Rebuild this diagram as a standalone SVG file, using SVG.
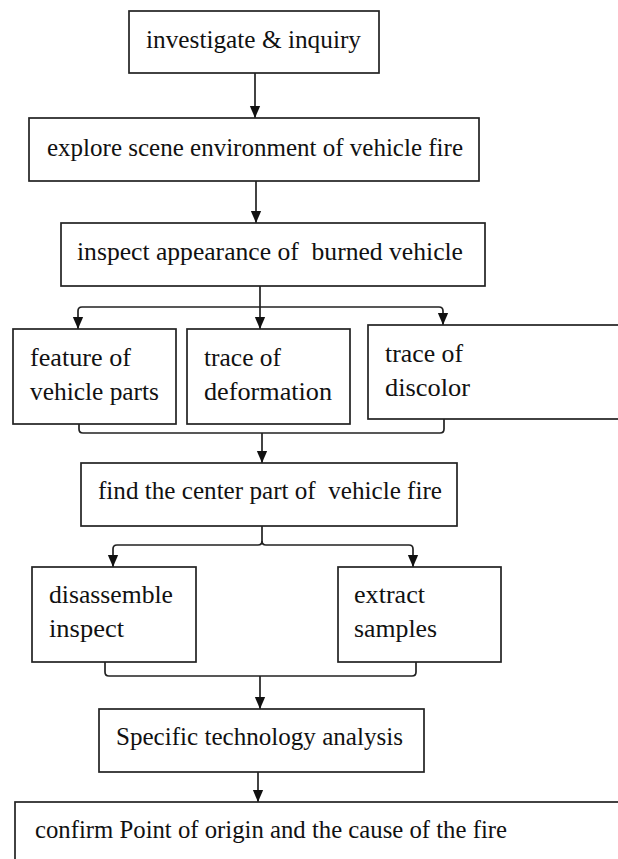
<svg xmlns="http://www.w3.org/2000/svg" width="618" height="859" viewBox="0 0 618 859">
<style>
rect{fill:#fff;stroke:#222;stroke-width:1.7}
text{font-family:"Liberation Serif","Times New Roman",serif;font-size:25px;fill:#111}
.c{fill:none;stroke:#222;stroke-width:1.7}
</style>
<defs>
<marker id="d" markerWidth="12" markerHeight="12" refX="14" refY="6" orient="auto" markerUnits="userSpaceOnUse" viewBox="0 0 14 12">
<path d="M0,0 L14,6 L0,12 Z" fill="#111"/>
</marker>
</defs>
<rect width="618" height="859" fill="#fff" style="stroke:none"/>
<g id="connectors">
<path class="c" d="M255,73 V118" marker-end="url(#d)"/>
<path class="c" d="M256,181 V223" marker-end="url(#d)"/>
<path class="c" d="M260,286 V329" marker-end="url(#d)"/>
<path class="c" d="M260,307 H82 Q78,307 78,311 V329" marker-end="url(#d)"/>
<path class="c" d="M260,307 H439 Q443,307 443,311 V325" marker-end="url(#d)"/>
<path class="c" d="M79,420 V429 Q79,433 83,433 H440 Q444,433 444,429 V419"/>
<path class="c" d="M262,433 V463" marker-end="url(#d)"/>
<path class="c" d="M262,526 V541 Q262,545 258,545 H117 Q113,545 113,549 V567" marker-end="url(#d)"/>
<path class="c" d="M262,541 Q262,545 266,545 H409 Q413,545 413,549 V567" marker-end="url(#d)"/>
<path class="c" d="M105,662 V672 Q105,676 109,676 H412 Q416,676 416,672 V662"/>
<path class="c" d="M260,676 V709" marker-end="url(#d)"/>
<path class="c" d="M258,772 V802" marker-end="url(#d)"/>
</g>
<g id="n1"><rect x="129" y="11" width="250" height="62"/><text x="146" y="48" textLength="215" lengthAdjust="spacingAndGlyphs">investigate &amp; inquiry</text></g>
<g id="n2"><rect x="29" y="118" width="450" height="63"/><text x="47" y="156" textLength="416" lengthAdjust="spacingAndGlyphs">explore scene environment of vehicle fire</text></g>
<g id="n3"><rect x="61" y="223" width="424" height="63"/><text x="77" y="260" textLength="386" lengthAdjust="spacingAndGlyphs" xml:space="preserve">inspect appearance of  burned vehicle</text></g>
<g id="n4"><rect x="13" y="329" width="163" height="95"/><text x="30" y="366" textLength="101" lengthAdjust="spacingAndGlyphs">feature of</text><text x="30" y="400" textLength="129" lengthAdjust="spacingAndGlyphs">vehicle parts</text></g>
<g id="n5"><rect x="187" y="329" width="163" height="95"/><text x="204" y="366" textLength="77" lengthAdjust="spacingAndGlyphs">trace of</text><text x="204" y="400" textLength="128" lengthAdjust="spacingAndGlyphs">deformation</text></g>
<g id="n6"><rect x="368" y="325" width="270" height="94"/><text x="385" y="362" textLength="78" lengthAdjust="spacingAndGlyphs">trace of</text><text x="385" y="396" textLength="85" lengthAdjust="spacingAndGlyphs">discolor</text></g>
<g id="n7"><rect x="81" y="463" width="376" height="63"/><text x="98" y="499" textLength="344" lengthAdjust="spacingAndGlyphs" xml:space="preserve">find the center part of  vehicle fire</text></g>
<g id="n8"><rect x="32" y="567" width="164" height="95"/><text x="49" y="603" textLength="124" lengthAdjust="spacingAndGlyphs">disassemble</text><text x="49" y="637" textLength="75" lengthAdjust="spacingAndGlyphs">inspect</text></g>
<g id="n9"><rect x="338" y="567" width="163" height="95"/><text x="354" y="603" textLength="71" lengthAdjust="spacingAndGlyphs">extract</text><text x="354" y="637" textLength="83" lengthAdjust="spacingAndGlyphs">samples</text></g>
<g id="n10"><rect x="99" y="709" width="325" height="63"/><text x="116" y="745" textLength="287" lengthAdjust="spacingAndGlyphs">Specific technology analysis</text></g>
<g id="n11"><rect x="15" y="802" width="640" height="80"/><text x="35" y="838" textLength="472" lengthAdjust="spacingAndGlyphs">confirm Point of origin and the cause of the fire</text></g>
</svg>
